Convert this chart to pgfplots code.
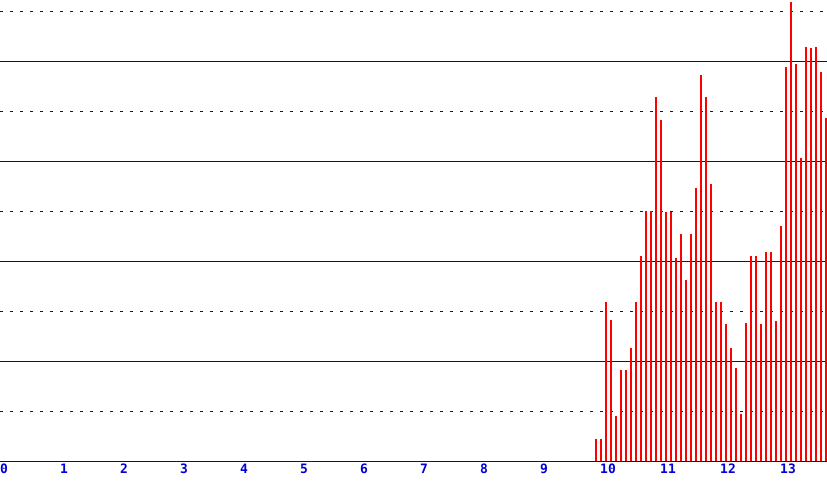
\documentclass[border=0pt]{standalone}
\usepackage{fontspec}
\usepackage{pgfplots}
\pgfplotsset{compat=1.18}
\newfontfamily\labfont{DejaVu Sans Mono Bold}
\definecolor{gridblue}{RGB}{0,0,215}
\definecolor{barred}{RGB}{255,0,0}

\begin{document}
\begin{tikzpicture}
\begin{axis}[
	name=ax,
	scale only axis,
	width=827bp, height=461bp,
	xmin=0, xmax=13.783,
	ymin=0, ymax=4.61,
	axis lines*=left,
	y axis line style={draw=none},
	x axis line style={gridblue, line width=1bp, -},
	xtick={0,1,...,13},
	major tick length=0pt,
	minor tick length=0pt,
	/pgf/number format/assume math mode=true,
	xticklabel style={font=\labfont\fontsize{13}{13}\selectfont, text=gridblue,
		anchor=north west, inner sep=0pt, yshift=-3bp},
	ytick={1,2,3,4},
	yticklabels={},
	minor ytick={0.5,1.5,2.5,3.5,4.5},
	ymajorgrids=true, yminorgrids=true,
	major grid style={gridblue, line width=0.8bp},
	minor grid style={gridblue, line width=0.8bp, dash pattern=on 3bp off 7bp},
	clip=false,
]
\addplot+[ycomb, no marks, barred, line width=2bp] coordinates {
(9.927,0.22)(10.010,0.22)(10.093,1.59)(10.177,1.41)(10.260,0.45)(10.343,0.91)
(10.427,0.91)(10.510,1.13)(10.593,1.59)(10.677,2.05)(10.760,2.50)(10.843,2.50)
(10.927,3.64)(11.010,3.41)(11.093,2.49)(11.177,2.49)(11.260,2.03)(11.343,2.27)
(11.427,1.81)(11.510,2.27)(11.593,2.73)(11.677,3.86)(11.760,3.64)(11.843,2.77)
(11.927,1.59)(12.010,1.59)(12.093,1.37)(12.177,1.13)(12.260,0.93)(12.343,0.47)
(12.427,1.38)(12.510,2.05)(12.593,2.05)(12.677,1.37)(12.760,2.09)(12.843,2.09)
(12.927,1.40)(13.010,2.35)(13.093,3.94)(13.177,4.59)(13.260,3.97)(13.343,3.03)
(13.427,4.14)(13.510,4.13)(13.593,4.14)(13.677,3.89)(13.760,3.43)
};
\end{axis}
\pgfresetboundingbox
\path[use as bounding box] (ax.south west) ++(0,-20bp) rectangle (ax.north east);
\end{tikzpicture}
\end{document}
